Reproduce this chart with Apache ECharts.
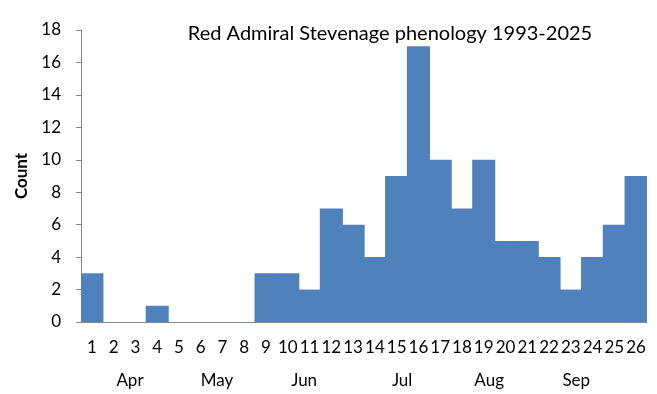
<!DOCTYPE html>
<html><head><meta charset="utf-8">
<script src="https://cdn.jsdelivr.net/npm/echarts@6/dist/echarts.min.js"></script>
<style>html,body{margin:0;padding:0;background:#fff}#c{width:657px;height:394px}</style>
</head><body><div id="c"></div>
<script>
var weeks = ['1','2','3','4','5','6','7','8','9','10','11','12','13','14','15','16','17','18','19','20','21','22','23','24','25','26'];
var counts = [3,0,0,1,0,0,0,0,3,3,2,7,6,4,9,17,10,7,10,5,5,4,2,4,6,9];
var months = ['Apr','May','Jun','Jul','Aug','Sep'];
var monthHalfWeekIndex = [4,12,20,29,37,45];
var yTicks = {min:0, max:18, interval:2};

var halfCats = [];
for (var i = 0; i < weeks.length*2; i++) {
  var k = monthHalfWeekIndex.indexOf(i);
  halfCats.push(k >= 0 ? months[k] : '');
}
var FONT = 'Lato';
var chart = echarts.init(document.getElementById('c'), null, {renderer:'canvas'});
chart.setOption({
  animation:false,
  title:{text:'Red Admiral Stevenage phenology 1993-2025', left:385, textAlign:'center', top:19,
    textStyle:{fontFamily:FONT, fontSize:20, fontWeight:'normal', color:'#000'}},
  grid:{left:81, right:10, top:30, bottom:72},
  xAxis:[{type:'category', data:weeks, z:3, axisLine:{lineStyle:{color:'#868686'}}, axisTick:{show:false},
    axisLabel:{interval:0, margin:17, fontFamily:FONT, fontSize:17, color:'#000'}},
   {type:'category', data:halfCats, position:'bottom', axisLine:{show:false}, axisTick:{show:false},
    axisLabel:{interval:0, margin:50, fontFamily:FONT, fontSize:17, color:'#000'}}],
  yAxis:{type:'value', min:yTicks.min, max:yTicks.max, interval:yTicks.interval, name:'Count', nameLocation:'middle', nameGap:50,
    nameTextStyle:{fontFamily:FONT, fontSize:17, fontWeight:'bold', color:'#000'},
    axisLine:{show:true, lineStyle:{color:'#868686'}}, axisTick:{show:true, length:5, lineStyle:{color:'#868686'}},
    splitLine:{show:false}, axisLabel:{margin:20, fontFamily:FONT, fontSize:17, color:'#000'}},
  series:[{type:'bar', data:counts, barWidth:'106%', z:1,
    itemStyle:{color:'#4F81BD'}}]
});
</script></body></html>
